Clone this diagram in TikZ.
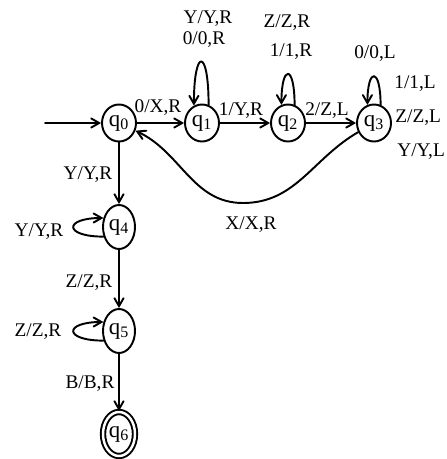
\documentclass[tikz,border=0pt]{standalone}
\usepackage{fontspec}
\setmainfont{Liberation Serif}
\usepackage{tikz}
\usetikzlibrary{arrows, shapes.geometric}

\begin{document}
\begin{tikzpicture}[line cap=round,line join=round,>=angle 60,x=1cm,y=1cm,
		zustand/.style={draw, ellipse, line width=1.1pt, inner sep=0pt, minimum width=0.68cm, minimum height=0.74cm, font=\fontsize{13}{15}\selectfont},
		zustandhoch/.style={zustand, minimum width=0.64cm, minimum height=0.88cm},
		kante/.style={->, line width=1.1pt},
		beschr/.style={font=\fontsize{11}{13}\selectfont, inner sep=0pt}]
		\useasboundingbox (0,0) rectangle (8.92,-9.18);

		% Zustaende
		\node[zustand] (q0) at (2.38,-2.46) {q\textsubscript{0}};
		\node[zustand] (q1) at (4.04,-2.46) {q\textsubscript{1}};
		\node[zustand] (q2) at (5.76,-2.46) {q\textsubscript{2}};
		\node[zustand] (q3) at (7.48,-2.46) {q\textsubscript{3}};
		\node[zustandhoch] (q4) at (2.38,-4.54) {q\textsubscript{4}};
		\node[zustandhoch] (q5) at (2.38,-6.62) {q\textsubscript{5}};
		\node[zustandhoch, double, double distance=1.4pt] (q6) at (2.38,-8.68) {q\textsubscript{6}};
		\coordinate (start) at (0.9,-2.46);
		\coordinate (tief) at (4.86,-4.06);

		% Uebergaenge
		\draw[kante] (start) -- (q0);
		\draw[kante] (q0) -- (q1);
		\draw[kante] (q1) -- (q2);
		\draw[kante] (q2) -- (q3);
		\draw[kante] (q3) to[out=-150, in=0] (tief) to[out=180, in=-25] (q0);
		\draw[kante] (q0) -- (q4);
		\draw[kante] (q4) -- (q5);
		\draw[kante] (q5) -- (q6);

		% Schleifen
		\draw[kante] (q1.70) .. controls +(0,1.16) and +(0,1.16) .. (q1.115);
		\draw[kante] (q2.70) .. controls +(0,0.82) and +(0,0.82) .. (q2.110);
		\draw[kante] (q3.70) .. controls +(0,0.76) and +(0,0.76) .. (q3.110);
		\draw[kante] (q4.212) .. controls +(-0.8,0) and +(-0.8,0) .. (q4.150);
		\draw[kante] (q5.212) .. controls +(-0.8,0) and +(-0.8,0) .. (q5.150);

		% Beschriftungen
		\node[beschr] (l1a) at (4.16,-0.38) {Y/Y,R};
		\node[beschr] (l1b) at (4.08,-0.80) {0/0,R};
		\node[beschr] (l2a) at (5.74,-0.46) {Z/Z,R};
		\node[beschr] (l2b) at (5.82,-1.04) {1/1,R};
		\node[beschr] (l3a) at (7.50,-1.08) {0/0,L};
		\node[beschr, anchor=west] (l3b) at (7.88,-1.68) {1/1,L};
		\node[beschr, anchor=west] (l3c) at (7.90,-2.36) {Z/Z,L};
		\node[beschr, anchor=west] (l3d) at (7.94,-3.04) {Y/Y,L};
		\node[beschr] (l01) at (3.16,-2.16) {0/X,R};
		\node[beschr] (l12) at (4.82,-2.22) {1/Y,R};
		\node[beschr] (l23) at (6.54,-2.22) {2/Z,L};
		\node[beschr] (l30) at (5.02,-4.50) {X/X,R};
		\node[beschr] (l04) at (1.76,-3.50) {Y/Y,R};
		\node[beschr] (l44) at (0.78,-4.64) {Y/Y,R};
		\node[beschr] (l45) at (1.78,-5.66) {Z/Z,R};
		\node[beschr] (l55) at (0.76,-6.64) {Z/Z,R};
		\node[beschr] (l56) at (1.80,-7.68) {B/B,R};
	\end{tikzpicture}
\end{document}
